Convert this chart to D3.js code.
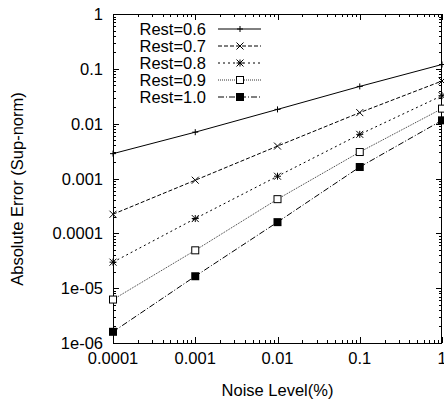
<!DOCTYPE html>
<html>
<head>
<meta charset="utf-8">
<script src="https://cdn.jsdelivr.net/npm/d3@7"></script>
<style>
  body { margin: 0; background: #fff; }
  text { font-family: "Liberation Sans", Arial, sans-serif; font-size: 16.5px; fill: #000; }
</style>
</head>
<body>
<svg width="444" height="402"></svg>
<script>
// noise levels (%) on x
const noise = [0.0001, 0.001, 0.01, 0.1, 1];

// absolute error per rest value
const rest06 = [0.00284, 0.0070, 0.0182, 0.0478, 0.120];
const rest07 = [0.000223, 0.00093, 0.0039, 0.0159, 0.060];
const rest08 = [0.0000298, 0.000186, 0.00110, 0.00638, 0.0324];
const rest09 = [0.0000062, 0.000049, 0.00042, 0.00304, 0.0188];
const rest10 = [0.0000016, 0.0000165, 0.00016, 0.00162, 0.0115];

const seriesNames = ['Rest=0.6', 'Rest=0.7', 'Rest=0.8', 'Rest=0.9', 'Rest=1.0'];
const seriesValues = [rest06, rest07, rest08, rest09, rest10];

const xTicks = [0.0001, 0.001, 0.01, 0.1, 1];
const xTickLabels = ['0.0001', '0.001', '0.01', '0.1', '1'];
const yTicks = [1e-6, 1e-5, 1e-4, 1e-3, 1e-2, 1e-1, 1];
const yTickLabels = ['1e-06', '1e-05', '0.0001', '0.001', '0.01', '0.1', '1'];

// line style + marker per series
const styles = [
  {dash: null, marker: 'plus', stroke: '#000'},
  {dash: '4,2', marker: 'cross', stroke: '#000'},
  {dash: '2,3', marker: 'star', stroke: '#000'},
  {dash: '1,1', marker: 'openSquare', stroke: '#333'},
  {dash: '6,2,1,2', marker: 'filledSquare', stroke: '#000'}
];

const pLeft = 113, pTop = 14, pRight = 442, pBottom = 343;

const svg = d3.select('svg');

const x = d3.scaleLog().domain([0.0001, 1]).range([pLeft, pRight]);
const y = d3.scaleLog().domain([1e-6, 1]).range([pBottom, pTop]);

// minor ticks 2..9 in every decade
function minors(lo, hi) {
  const out = [];
  for (let e = Math.round(Math.log10(lo)); e < Math.round(Math.log10(hi)); e++) {
    for (let k = 2; k <= 9; k++) out.push(k * Math.pow(10, e));
  }
  return out;
}
const xMinor = minors(0.0001, 1);
const yMinor = minors(1e-6, 1);

const axisG = svg.append('g').attr('class', 'axes');

// ticks on all four sides, pointing in
function tickLines(vals, len, side) {
  const horiz = side === 'bottom' || side === 'top';
  axisG.append('g').selectAll('line')
    .data(vals)
    .enter()
    .append('line')
    .attr('stroke', '#000')
    .attr('stroke-width', 1)
    .attr('x1', d => horiz ? Math.round(x(d)) + 0.5 : (side === 'left' ? pLeft : pRight))
    .attr('x2', d => horiz ? Math.round(x(d)) + 0.5 : (side === 'left' ? pLeft + len : pRight - len))
    .attr('y1', d => !horiz ? Math.round(y(d)) + 0.5 : (side === 'bottom' ? pBottom : pTop))
    .attr('y2', d => !horiz ? Math.round(y(d)) + 0.5 : (side === 'bottom' ? pBottom - len : pTop + len));
}
['bottom', 'top'].forEach(s => { tickLines(xTicks, 6, s); tickLines(xMinor, 3, s); });
['left', 'right'].forEach(s => { tickLines(yTicks, 6, s); tickLines(yMinor, 3, s); });

// frame
svg.append('rect')
  .attr('x', pLeft + 0.5).attr('y', pTop + 0.5)
  .attr('width', pRight - pLeft - 1).attr('height', pBottom - pTop)
  .attr('fill', 'none').attr('stroke', '#000').attr('stroke-width', 1);

// tick labels
svg.append('g').selectAll('text')
  .data(xTicks)
  .enter()
  .append('text')
  .attr('x', d => x(d))
  .attr('y', 364)
  .attr('text-anchor', 'middle')
  .text((d, i) => xTickLabels[i]);

svg.append('g').selectAll('text')
  .data(yTicks)
  .enter()
  .append('text')
  .attr('x', 103)
  .attr('y', d => y(d) + 6)
  .attr('text-anchor', 'end')
  .text((d, i) => yTickLabels[i]);

// axis titles
svg.append('text')
  .attr('x', (pLeft + pRight) / 2)
  .attr('y', 396)
  .attr('text-anchor', 'middle')
  .text('Noise Level(%)');

svg.append('text')
  .attr('transform', 'translate(23,' + 189 + ') rotate(-90)')
  .attr('text-anchor', 'middle')
  .text('Absolute Error (Sup-norm)');

// marker drawing
function drawMarker(g, type, cx, cy) {
  const s = type === 'plus' ? 3 : 3.5;
  if (type === 'plus' || type === 'star') {
    g.append('path').attr('d', `M${cx - s},${cy}H${cx + s}M${cx},${cy - s}V${cy + s}`)
      .attr('stroke', '#000').attr('fill', 'none');
  }
  if (type === 'cross' || type === 'star') {
    g.append('path').attr('d', `M${cx - s},${cy - s}L${cx + s},${cy + s}M${cx - s},${cy + s}L${cx + s},${cy - s}`)
      .attr('stroke', '#000').attr('fill', 'none');
  }
  if (type === 'openSquare') {
    g.append('rect').attr('x', cx - 3.5).attr('y', cy - 3.5).attr('width', 7).attr('height', 7)
      .attr('fill', '#fff').attr('stroke', '#000');
  }
  if (type === 'filledSquare') {
    g.append('rect').attr('x', cx - 4).attr('y', cy - 4).attr('width', 8).attr('height', 8)
      .attr('fill', '#000');
  }
}

const line = d3.line()
  .x((d, i) => x(noise[i]))
  .y(d => y(d));

const plotG = svg.append('g');

seriesValues.forEach((vals, k) => {
  const st = styles[k];
  plotG.append('path')
    .datum(vals)
    .attr('d', line)
    .attr('fill', 'none')
    .attr('stroke', st.stroke)
    .attr('stroke-width', 1)
    .attr('stroke-dasharray', st.dash);
  vals.forEach((v, i) => drawMarker(plotG, st.marker, x(noise[i]), y(v)));
});

// legend
const legendRows = [29, 46, 63, 80, 97];
const legendG = svg.append('g');
seriesNames.forEach((name, k) => {
  const st = styles[k];
  const ly = legendRows[k];
  legendG.append('text')
    .attr('x', 206)
    .attr('y', ly + 6)
    .attr('text-anchor', 'end')
    .text(name);
  legendG.append('line')
    .attr('x1', 218).attr('x2', 261)
    .attr('y1', ly).attr('y2', ly)
    .attr('stroke', st.stroke)
    .attr('stroke-dasharray', st.dash);
  drawMarker(legendG, st.marker, 240, ly);
});
</script>
</body>
</html>
